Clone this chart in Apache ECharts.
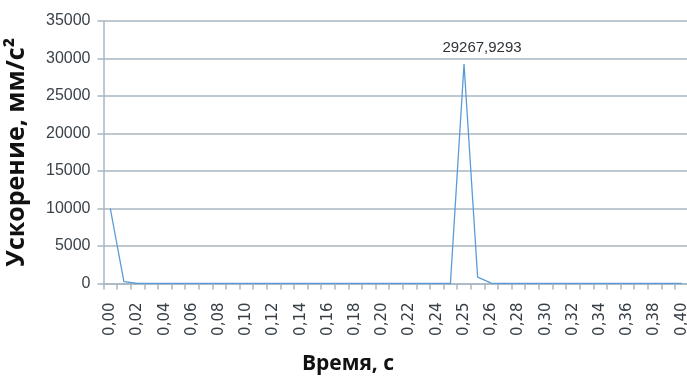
<!DOCTYPE html>
<html>
<head>
<meta charset="utf-8">
<script src="https://cdn.jsdelivr.net/npm/echarts@6/dist/echarts.min.js"></script>
<style>
html,body{margin:0;padding:0;background:#fff;}
#chart{width:687px;height:380px;}
</style>
</head>
<body>
<div id="chart"></div>
<script>
// Time categories (s)
const categories = ['0,00','0,01','0,02','0,03','0,04','0,05','0,06','0,07','0,08','0,09',
  '0,10','0,11','0,12','0,13','0,14','0,15','0,16','0,17','0,18','0,19',
  '0,20','0,21','0,22','0,23','0,24','0,245','0,25','0,255','0,26','0,27',
  '0,28','0,29','0,30','0,31','0,32','0,33','0,34','0,35','0,36','0,37',
  '0,38','0,39','0,40'];
// Acceleration (mm/s^2)
const acceleration = [10000, 250, 0, 0, 0, 0, 0, 0, 0, 0,
  0, 0, 0, 0, 0, 0, 0, 0, 0, 0,
  0, 0, 0, 0, 0, 0, 29267.9293, 850, 50, 0,
  0, 0, 0, 0, 0, 0, 0, 0, 0, 0,
  0, 0, 0];
const peakIndex = 26;
const yTicks = [0, 5000, 10000, 15000, 20000, 25000, 30000, 35000];

const seriesData = acceleration.map((v, i) => i === peakIndex ? {
  value: v,
  label: {
    show: true, position: 'top', distance: 9, offset: [18, 0],
    formatter: () => String(v).replace('.', ','),
    fontFamily: 'Liberation Sans', fontSize: 15, color: '#2e3338'
  }
} : v);

const gridColor = '#a9b6c2';
const chart = echarts.init(document.getElementById('chart'), null, {renderer: 'canvas'});
chart.setOption({
  backgroundColor: '#ffffff',
  animation: false,
  grid: {left: 103.5, top: 21, width: 585, bottom: 96.5, containLabel: false, outerBoundsMode: 'none'},
  xAxis: {
    type: 'category',
    data: categories,
    boundaryGap: true,
    name: 'Время, с',
    nameLocation: 'middle',
    nameGap: 70,
    nameTextStyle: {fontFamily: 'Open Sans', fontWeight: 'bold', fontSize: 21, color: '#111', padding: [0, 96, 0, 0]},
    axisLine: {show: true, lineStyle: {color: gridColor, width: 1.5}},
    axisTick: {show: true, interval: 0, length: 6, lineStyle: {color: gridColor, width: 1.5}},
    axisLabel: {interval: 1, rotate: 90, margin: 19, fontFamily: 'DejaVu Sans', fontSize: 15, color: '#353d45'},
    splitLine: {show: false}
  },
  yAxis: {
    type: 'value',
    min: yTicks[0],
    max: yTicks[yTicks.length - 1],
    interval: yTicks[1] - yTicks[0],
    name: 'Ускорение, мм/с²',
    nameLocation: 'middle',
    nameGap: 74,
    nameTextStyle: {fontFamily: 'Open Sans', fontWeight: 'bold', fontSize: 25, color: '#111'},
    axisLine: {show: true, lineStyle: {color: gridColor, width: 1.5}},
    axisTick: {show: true, length: 6, lineStyle: {color: gridColor, width: 1.5}},
    axisLabel: {margin: 13, fontFamily: 'Liberation Sans', fontSize: 16, color: '#3a424a',
      formatter: (v) => String(v)},
    splitLine: {show: true, lineStyle: {color: gridColor, width: 1.5}}
  },
  series: [{
    type: 'line',
    data: seriesData,
    showSymbol: true,
    symbol: 'circle',
    symbolSize: 0,
    lineStyle: {color: '#5b9bd5', width: 1.3},
    itemStyle: {color: '#5b9bd5'}
  }]
});
</script>
</body>
</html>
